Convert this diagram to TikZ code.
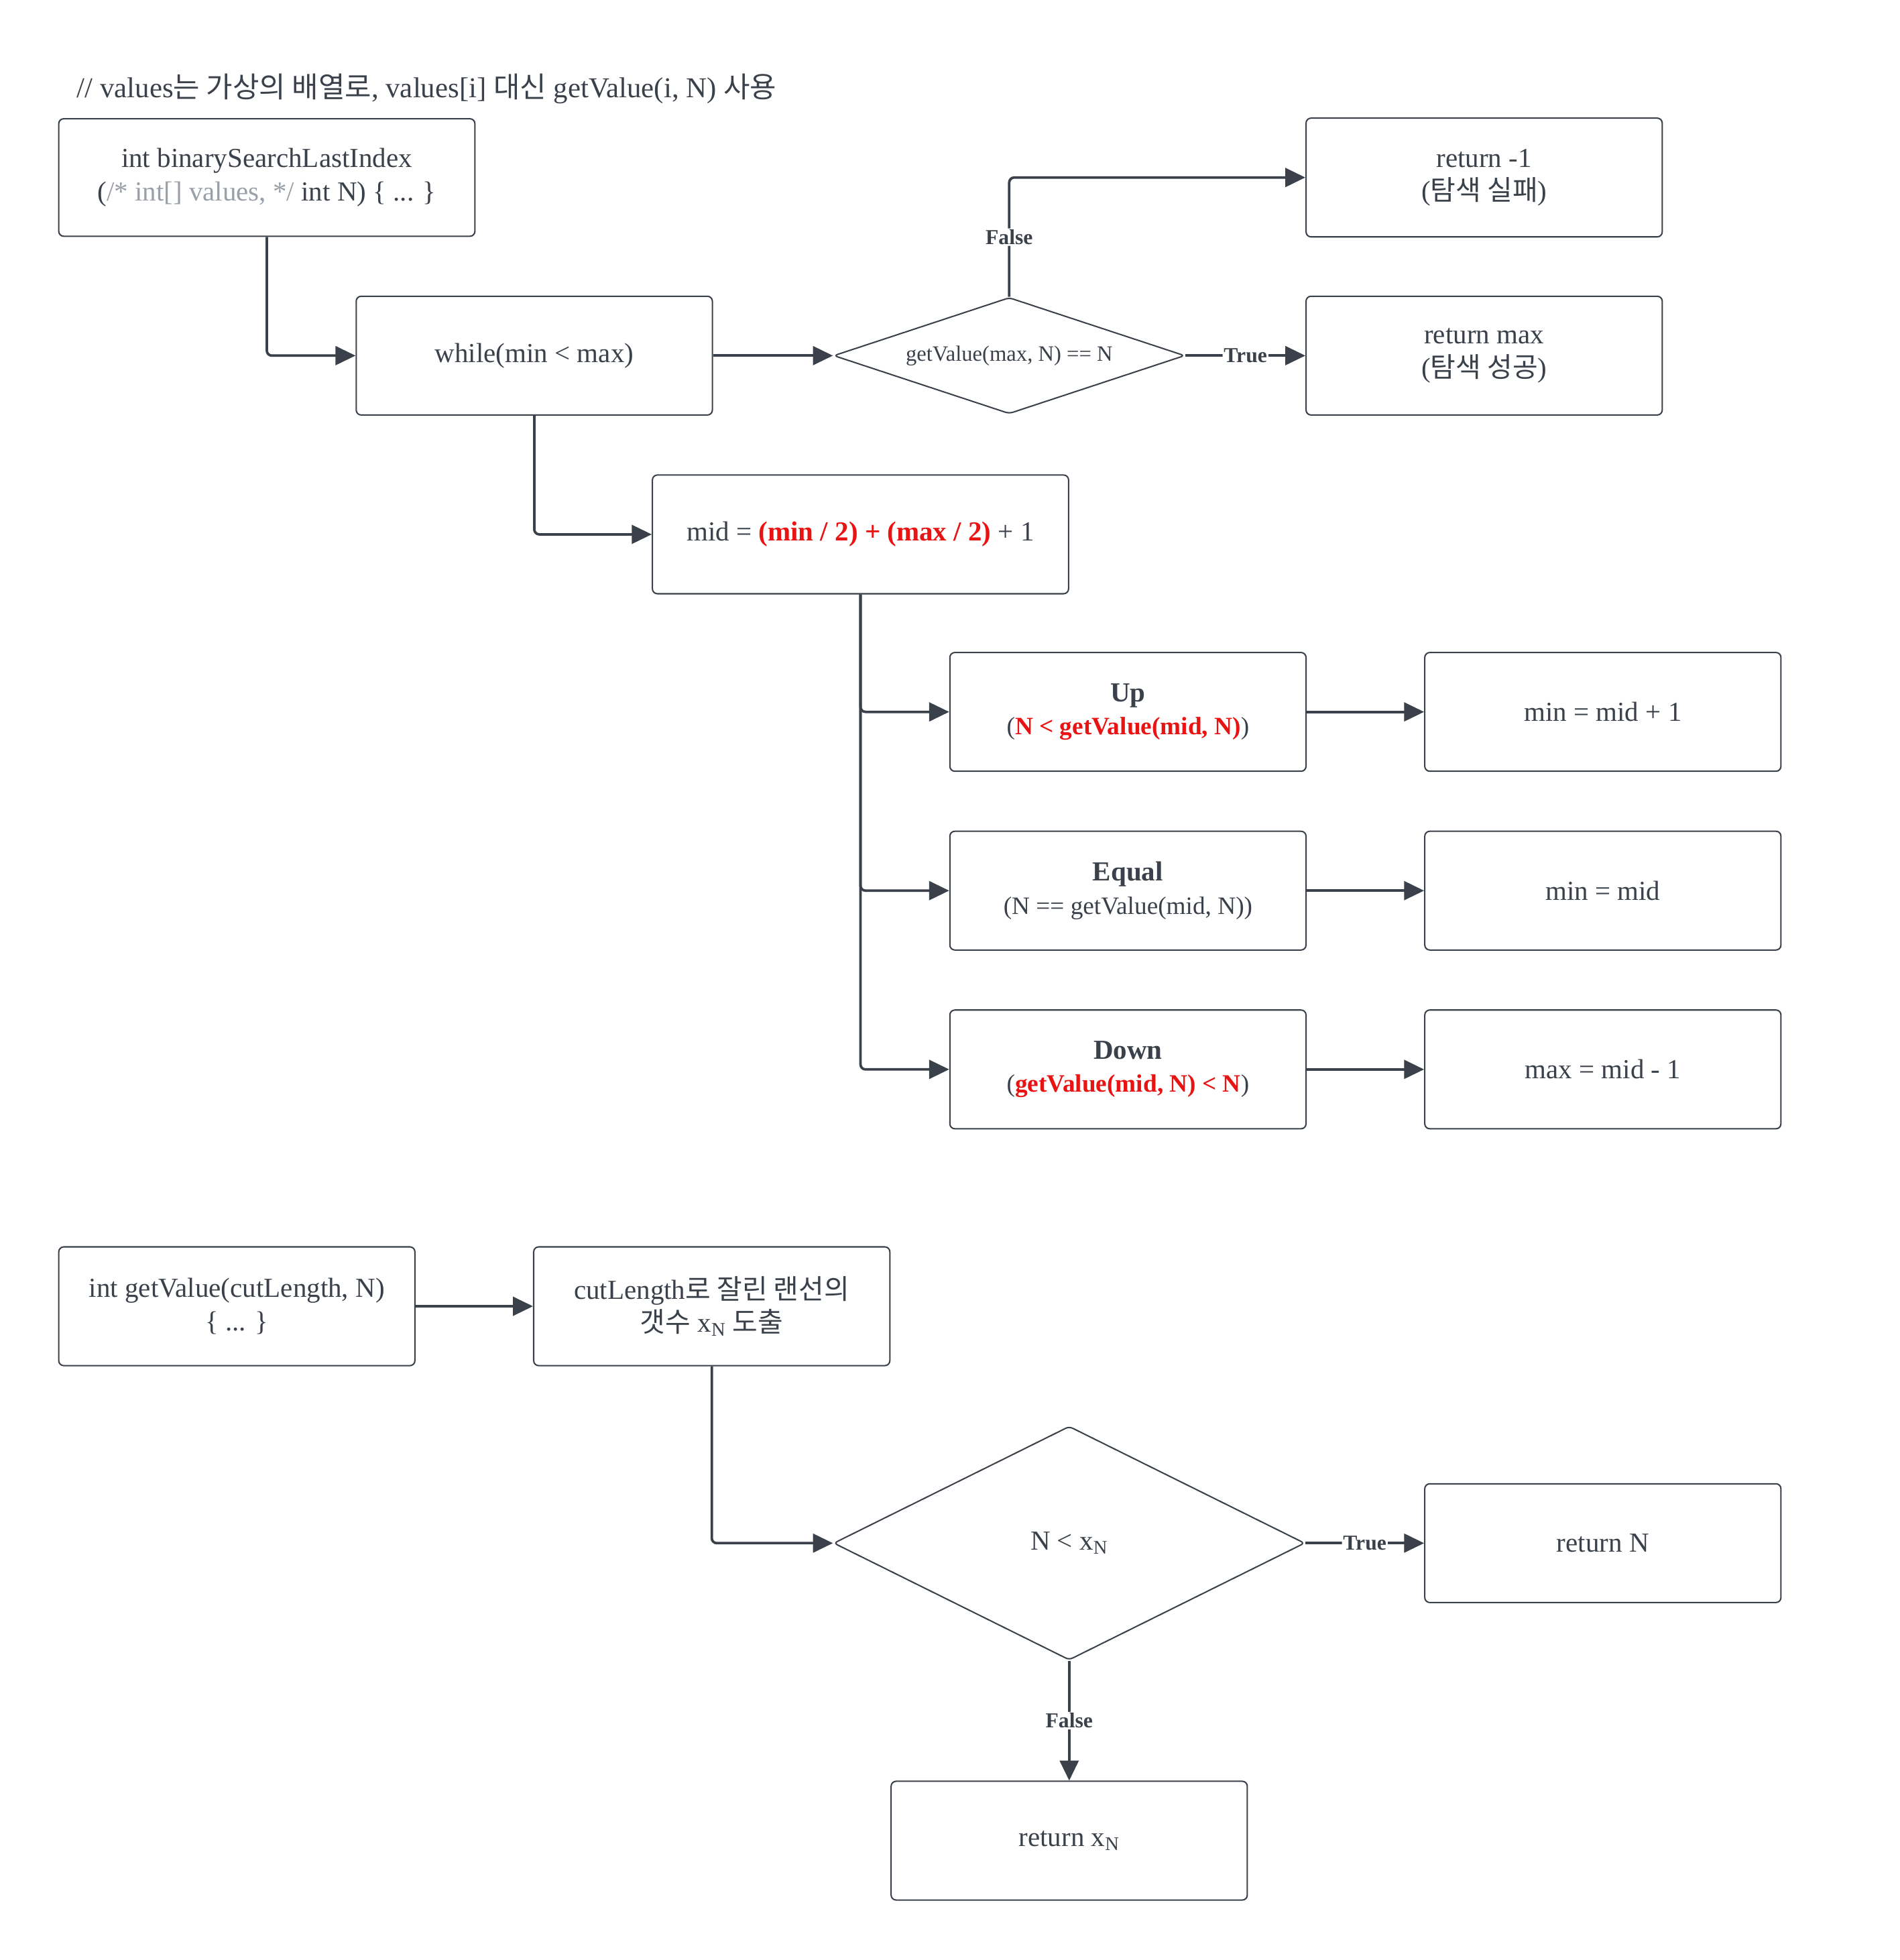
\documentclass[tikz,border=0pt]{standalone}
\usepackage{fontspec}
\setmainfont{Liberation Serif}
\newfontfamily\krfont{Noto Sans CJK KR}[Scale=1.0]
\usetikzlibrary{arrows.meta, shapes.geometric}
\definecolor{ink}{HTML}{3A414A}
\definecolor{hot}{HTML}{E81313}
\definecolor{dim}{HTML}{9AA0A8}
\newcommand{\ko}[1]{{\krfont #1}}
\newcommand{\redb}[1]{\textcolor{hot}{\textbf{#1}}}
\newcommand{\sub}{\fontsize{20}{24}\selectfont}

\begin{document}
\begin{tikzpicture}[x=1pt, y=-1pt, font=\fontsize{22}{26.5}\selectfont, text=ink,
	box/.style={draw=ink, line width=1.1pt, rounded corners=4pt, minimum width=285pt, minimum height=95pt, align=center, fill=white},
	decision/.style={diamond, draw=ink, line width=1.1pt, rounded corners=3pt, inner sep=0pt, align=center},
	arr/.style={draw=ink, line width=2pt, rounded corners=4pt, -{Triangle[length=16pt, width=15pt]}},
	lbl/.style={fill=white, font=\bfseries\fontsize{17}{19}\selectfont, inner sep=1pt}]
	\useasboundingbox (0,0) rectangle (1520,1568);
	
	\node[anchor=west, font=\fontsize{23}{27}\selectfont] (note) at (58,71) {// values\ko{는 가상의 배열로}, values[i] \ko{대신} getValue(i, N) \ko{사용}};
	
	% binary search
	\node[box, minimum width=333pt, minimum height=94pt] (search) at (213.5,142) {int binarySearchLastIndex\\(\textcolor{dim}{/* int[] values, */} int N) \{ ... \}};
	\node[box] (loop) at (427.5,284.5) {while(min < max)};
	\node[decision, aspect=3, minimum width=281pt, minimum height=93pt, font=\fontsize{17.5}{20}\selectfont] (check) at (807.5,284.5) {getValue(max, N) == N};
	\node[box] (fail) at (1187.5,142) {return -1\\(\ko{탐색 실패})};
	\node[box] (found) at (1187.5,284.5) {return max\\(\ko{탐색 성공})};
	\node[box, minimum width=333pt] (mid) at (688.5,427.5) {mid = \redb{(min / 2) + (max / 2)} + 1};
	
	\node[box] (up) at (902.5,569.5) {\textbf{Up}\\{\sub(\redb{N < getValue(mid, N)})}};
	\node[box] (eq) at (902.5,712.5) {\textbf{Equal}\\{\sub(N == getValue(mid, N))}};
	\node[box] (down) at (902.5,855.5) {\textbf{Down}\\{\sub(\redb{getValue(mid, N) < N})}};
	\node[box] (up-act) at (1282.5,569.5) {min = mid + 1};
	\node[box] (eq-act) at (1282.5,712.5) {min = mid};
	\node[box] (down-act) at (1282.5,855.5) {max = mid - 1};
	
	\draw[arr] (search.south) |- (loop.west);
	\draw[arr] (loop) -- (check);
	\draw[arr] (check.north) |- node[lbl, pos=0.25] {False} (fail.west);
	\draw[arr] (check) -- node[lbl] {True} (found);
	\draw[arr] (loop.south) |- (mid.west);
	\foreach \s in {up, eq, down} {
		\draw[arr] (mid.south) |- (\s.west);
		\draw[arr] (\s) -- (\s-act);
	}
	
	% getValue
	\node[box] (getval) at (189.5,1045) {int getValue(cutLength, N)\\\{ ... \}};
	\node[box] (count) at (569.5,1045) {cutLength\ko{로 잘린 랜선의}\\\ko{갯수} x\textsubscript{N} \ko{도출}};
	\node[decision, aspect=2, minimum width=377pt, minimum height=187pt] (cmp) at (855.5,1234.5) {N < x\textsubscript{N}};
	\node[box] (retn) at (1282.5,1234.5) {return N};
	\node[box] (retx) at (855.5,1472.5) {return x\textsubscript{N}};
	
	\draw[arr] (getval) -- (count);
	\draw[arr] (count.south) |- (cmp.west);
	\draw[arr] (cmp) -- node[lbl] {True} (retn);
	\draw[arr] (cmp) -- node[lbl] {False} (retx);
\end{tikzpicture}
\end{document}
